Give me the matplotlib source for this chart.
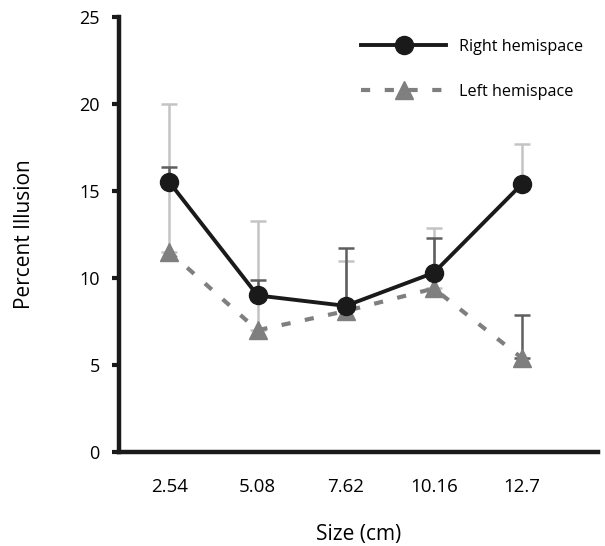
import matplotlib
matplotlib.use("Agg")
import matplotlib.pyplot as plt

plt.rcParams['font.family'] = ['Open Sans', 'DejaVu Sans']

# data
sizes = ['2.54', '5.08', '7.62', '10.16', '12.7']
right_vals = [15.5, 9.0, 8.4, 10.3, 15.4]
left_vals = [11.5, 7.0, 8.1, 9.4, 5.4]
right_upper = [16.4, 9.9, 11.7, 12.3, 17.7]
left_upper = [20.0, 13.3, 11.0, 12.9, 7.9]

light = '#c4c4c4'
dark = '#5e5e5e'
right_err_colors = [dark, dark, dark, dark, light]
left_err_colors = [light, light, light, light, dark]

x = list(range(len(sizes)))

fig = plt.figure(figsize=(6.05, 5.46), dpi=100)
ax = fig.add_axes([0.197, 0.172, 0.791, 0.797])

# error bars (upper only)
for i in x:
    ax.errorbar(i, left_vals[i], yerr=[[0], [left_upper[i] - left_vals[i]]],
                fmt='none', ecolor=left_err_colors[i], elinewidth=1.8,
                capsize=6, capthick=1.8, zorder=1)
    ax.errorbar(i, right_vals[i], yerr=[[0], [right_upper[i] - right_vals[i]]],
                fmt='none', ecolor=right_err_colors[i], elinewidth=1.8,
                capsize=6, capthick=1.8, zorder=1)

ax.plot(x, left_vals, color='#7f7f7f', linestyle=(0, (2.2, 3.5)), linewidth=3,
        marker='^', markersize=13, markerfacecolor='#7f7f7f', markeredgecolor='#7f7f7f',
        label='Left hemispace', zorder=2)
ax.plot(x, right_vals, color='#1a1a1a', linewidth=2.8,
        marker='o', markersize=13, label='Right hemispace', zorder=3)

ax.set_xlim(-0.57, 4.86)
ax.set_ylim(0, 25)
ax.set_yticks([0, 5, 10, 15, 20, 25])
ax.set_xticks(x)
ax.set_xticklabels(sizes)

for side in ['top', 'right']:
    ax.spines[side].set_visible(False)
for side in ['left', 'bottom']:
    ax.spines[side].set_linewidth(3.2)
    ax.spines[side].set_color('#1a1a1a')

ax.tick_params(axis='y', length=5, width=3, color='#1a1a1a', labelsize=13, pad=9)
ax.tick_params(axis='x', length=0, labelsize=13.5, pad=19)

ax.set_ylabel('Percent Illusion', fontsize=15, labelpad=32)
ax.set_xlabel('Size (cm)', fontsize=15, labelpad=20)

handles, labels = ax.get_legend_handles_labels()
ax.legend(handles[::-1], labels[::-1], loc='upper right', bbox_to_anchor=(1.0, 0.983),
          frameon=False, fontsize=11.6, handlelength=5.3, labelspacing=1.8,
          handletextpad=0.8)

fig.savefig('out.png', dpi=100)
